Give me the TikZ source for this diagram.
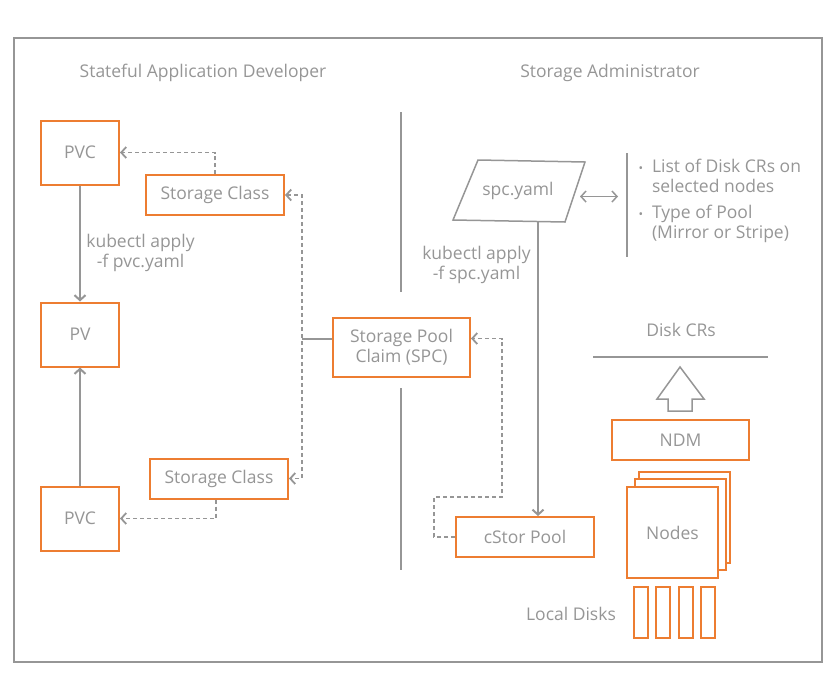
\documentclass[tikz,border=0pt]{standalone}
\usepackage{fontspec}
\setmainfont{Open Sans}
\usetikzlibrary{arrows.meta}
\definecolor{boxorange}{RGB}{237,125,49}
\definecolor{linegray}{RGB}{150,150,150}
\begin{document}
\begin{tikzpicture} [
  x=1pt, y=-1pt,
  >={Straight Barb[length=5pt,width=11pt]},
  every node/.style= {text=linegray, font=\fontsize{17.5}{20}\selectfont},
  box/.style= {draw=boxorange, line width=2pt, fill=white, inner sep=0, minimum width=138pt, minimum height=40pt, align=center},
  square box/.style= {box, minimum width=78pt, minimum height=64pt},
  stack box/.style= {box, minimum width=91pt, minimum height=91pt},
  disk box/.style= {box, minimum width=14pt, minimum height=51pt},
  link/.style= {draw=linegray, line width=2pt},
  dash link/.style= {draw=linegray, line width=1.8pt, dash pattern=on 4pt off 3pt},
]
\useasboundingbox (0,0) rectangle (834,681);
\draw [linegray, line width=1.5pt] (14,38) rectangle (822,662);

\node (dev) at (203,73) {Stateful Application Developer};
\node (admin) at (610,73) {Storage Administrator};

\node (PVC1) [square box] at (80,152.5) {PVC};
\node (PV) [square box] at (80,334.5) {PV};
\node (PVC2) [square box] at (80,518.5) {PVC};
\node (SC1) [box] at (215,195) {Storage Class};
\node (SC2) [box] at (219,478.5) {Storage Class};
\node (SPC) [box, minimum width=137pt, minimum height=59pt] at (401.5,347.5) {Storage Pool\\Claim (SPC)};
\node (cstor) [box] at (525,537) {cStor Pool};
\node (NDM) [box, minimum width=137pt] at (680.5,440) {NDM};

\draw [link,->] (PVC1) -- (PV) node [pos=0.58, right=2pt, align=center] {kubectl apply\\-f pvc.yaml};
\draw [link,->] (PVC2) -- (PV);
\draw [dash link,->] (SC1.north) |- (PVC1.east);
\draw [dash link,->] ([xshift=-3pt]SC2.south) |- (PVC2.east);
\coordinate (J) at (302,338.5);
\draw [dash link,<->] (SC1.east) -| (J) |- (SC2.east);
\draw [link] (J) -- (J -| SPC.west);

\draw [link] (401,112) -- (401,292);
\draw [link] (401,388) -- (401,570);

\coordinate (Y1) at (478,160);
\coordinate (Y2) at (585,162);
\coordinate (Y3) at (565,222);
\coordinate (Y4) at (453,220);
\draw [linegray, line width=1.5pt] (Y1) -- (Y2) -- (Y3) -- (Y4) -- cycle;
\node (yaml) at (518,191) {spc.yaml};
\coordinate (Yb) at (538,221);
\draw [link,->] (Yb) -- (Yb |- cstor.north) node [pos=0.15, left=3pt, align=center] {kubectl apply\\-f spc.yaml};
\draw [linegray, line width=1.5pt,<->] (580,196.5) -- (618,196.5);
\draw [link] (627,153) -- (627,257);
\node (list) [anchor=west, align=left] at (635,201.5) {%
  \begin{tabular}{@{}l@{\hspace{9pt}}l@{}}
  {\fontsize{12}{12}\selectfont\textbullet} & List of Disk CRs on\\
   & selected nodes\\[6pt]
  {\fontsize{12}{12}\selectfont\textbullet} & Type of Pool\\
   & (Mirror or Stripe)
  \end{tabular}};

\draw [dash link,->] (cstor.west) -- ++(-21,0) |- (502,497) |- (SPC.east |- J);

\node (crs) at (681,330) {Disk CRs};
\draw [link] (593,357) -- (768,357);
\draw [linegray, line width=1.5pt] (668,411) -- (668,399) -- (657,399) -- (680,367) -- (704,399) -- (692,399) -- (692,411) -- cycle;

\node (N3) [stack box] at (684,517.5) {};
\node (N2) [stack box] at (680,524.5) {};
\node (N1) [stack box] at (672.5,532.5) {Nodes};
\foreach \x in {641,663,686,708}
  \node (D\x) [disk box] at (\x,612.5) {};
\node (disks) at (571,614) {Local Disks};
\end{tikzpicture}
\end{document}
